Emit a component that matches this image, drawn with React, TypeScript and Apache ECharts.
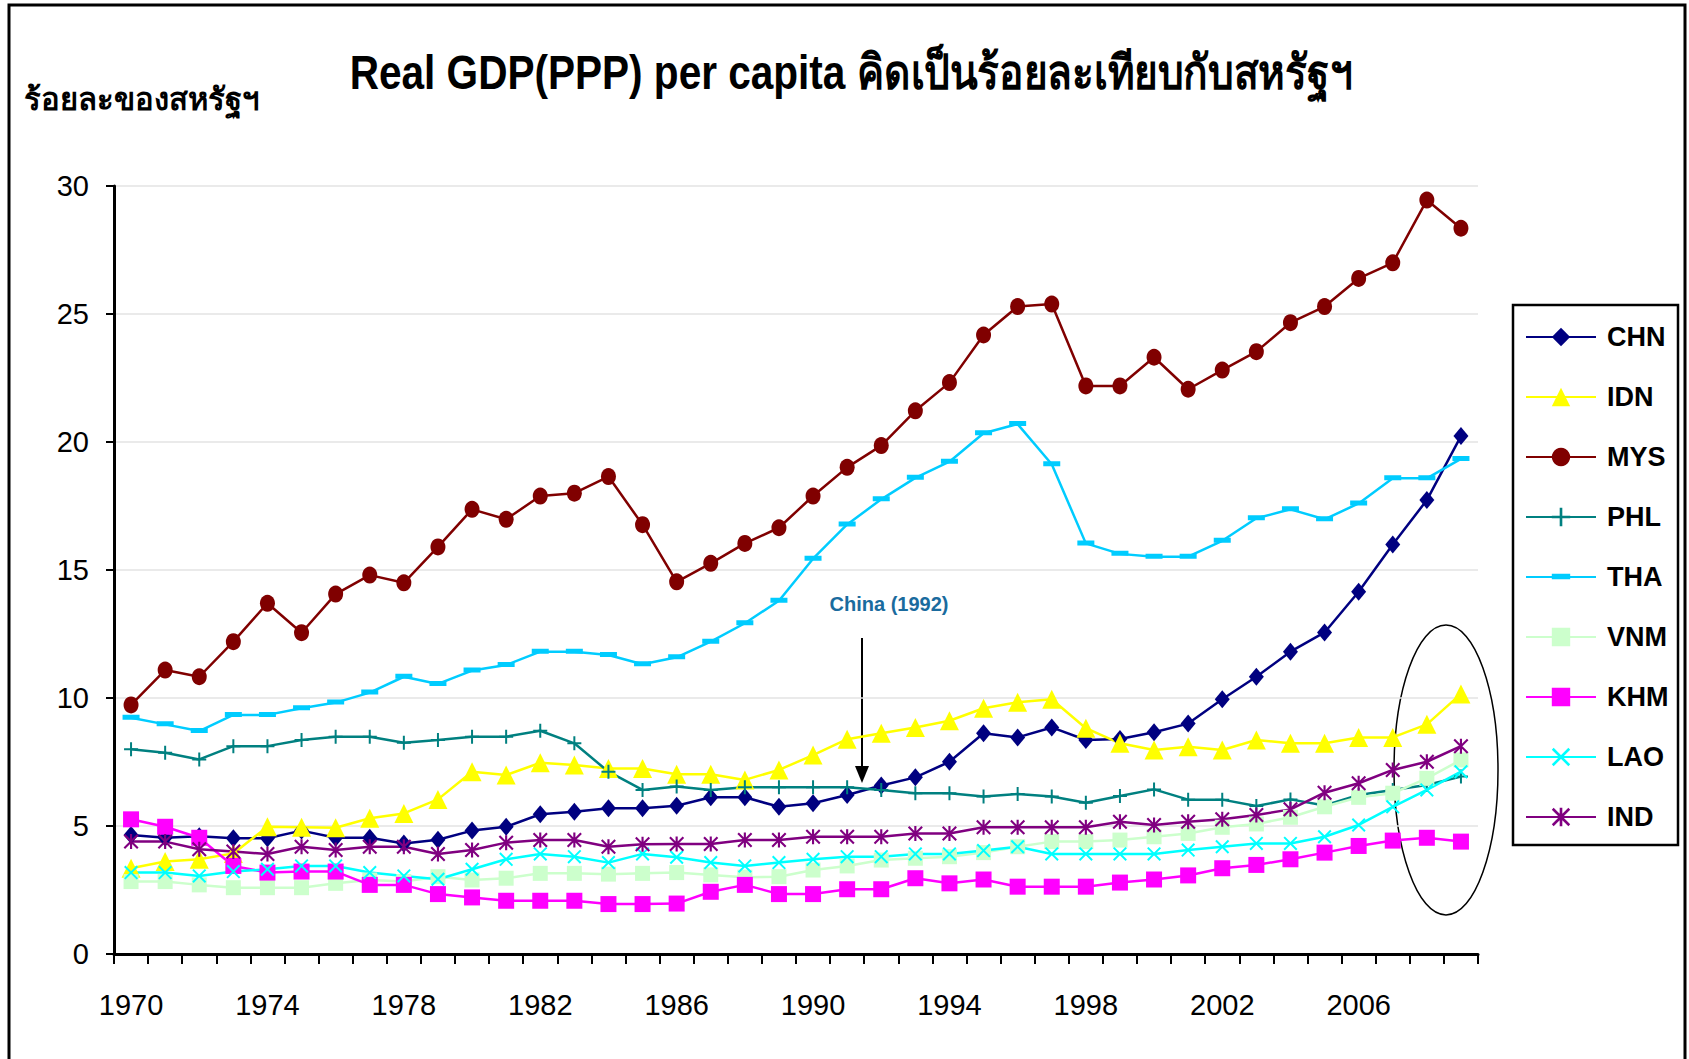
import React, { useEffect, useRef } from "react";
import * as echarts from "echarts";

const FONT = "'Liberation Sans', Arial, sans-serif";

const years = [
  "1970", "1971", "1972", "1973", "1974", "1975", "1976", "1977", "1978", "1979",
  "1980", "1981", "1982", "1983", "1984", "1985", "1986", "1987", "1988", "1989",
  "1990", "1991", "1992", "1993", "1994", "1995", "1996", "1997", "1998", "1999",
  "2000", "2001", "2002", "2003", "2004", "2005", "2006", "2007", "2008", "2009",
];

const CHN = [4.65, 4.54, 4.6, 4.52, 4.52, 4.82, 4.54, 4.54, 4.32, 4.46,
  4.82, 4.97, 5.46, 5.56, 5.69, 5.69, 5.79, 6.12, 6.12, 5.75,
  5.89, 6.21, 6.58, 6.9, 7.51, 8.62, 8.46, 8.85, 8.36, 8.4,
  8.66, 9.0, 9.95, 10.83, 11.81, 12.56, 14.15, 16.0, 17.73, 20.23];
const IDN = [3.35, 3.61, 3.7, 3.93, 4.97, 4.95, 4.93, 5.3, 5.49, 6.04,
  7.12, 6.99, 7.47, 7.38, 7.25, 7.25, 7.02, 7.02, 6.8, 7.19,
  7.77, 8.39, 8.62, 8.85, 9.11, 9.6, 9.83, 9.95, 8.82, 8.23,
  7.97, 8.1, 7.97, 8.36, 8.23, 8.23, 8.46, 8.46, 8.97, 10.16];
const MYS = [9.73, 11.09, 10.83, 12.2, 13.7, 12.55, 14.06, 14.8, 14.5, 15.9,
  17.37, 16.98, 17.89, 18.0, 18.65, 16.77, 14.54, 15.26, 16.04, 16.65,
  17.89, 19.01, 19.86, 21.22, 22.32, 24.18, 25.29, 25.39, 22.19, 22.19,
  23.31, 22.06, 22.81, 23.53, 24.66, 25.29, 26.39, 27.0, 29.45, 28.35];
const PHL = [8.0, 7.86, 7.6, 8.12, 8.12, 8.36, 8.49, 8.49, 8.25, 8.36,
  8.49, 8.49, 8.72, 8.23, 7.12, 6.41, 6.54, 6.41, 6.51, 6.51,
  6.51, 6.51, 6.41, 6.28, 6.28, 6.15, 6.25, 6.15, 5.91, 6.17,
  6.43, 6.03, 6.03, 5.78, 6.04, 5.8, 6.21, 6.41, 6.6, 6.93];
const THA = [9.23, 8.97, 8.71, 9.34, 9.34, 9.6, 9.82, 10.21, 10.83, 10.55,
  11.07, 11.29, 11.81, 11.81, 11.68, 11.32, 11.59, 12.2, 12.92, 13.8,
  15.44, 16.78, 17.76, 18.6, 19.23, 20.34, 20.7, 19.13, 16.04, 15.63,
  15.52, 15.52, 16.14, 17.02, 17.37, 16.98, 17.6, 18.58, 18.58, 19.34];
const VNM = [2.83, 2.83, 2.7, 2.59, 2.59, 2.59, 2.76, 2.89, 2.83, 3.02,
  2.89, 2.96, 3.15, 3.15, 3.12, 3.15, 3.18, 3.09, 3.0, 3.02,
  3.28, 3.44, 3.67, 3.74, 3.8, 3.96, 4.19, 4.39, 4.39, 4.45,
  4.58, 4.71, 4.95, 5.08, 5.34, 5.75, 6.12, 6.28, 6.86, 7.58];
const KHM = [5.26, 4.97, 4.54, 3.44, 3.18, 3.22, 3.22, 2.7, 2.7, 2.34,
  2.21, 2.08, 2.08, 2.08, 1.95, 1.95, 1.97, 2.43, 2.7, 2.34,
  2.34, 2.53, 2.53, 2.96, 2.76, 2.91, 2.63, 2.63, 2.63, 2.79,
  2.91, 3.07, 3.35, 3.48, 3.7, 3.96, 4.22, 4.43, 4.54, 4.39];
const LAO = [3.18, 3.18, 3.05, 3.22, 3.31, 3.44, 3.44, 3.18, 3.05, 2.92,
  3.31, 3.7, 3.91, 3.8, 3.57, 3.91, 3.78, 3.57, 3.44, 3.57,
  3.7, 3.8, 3.8, 3.91, 3.91, 4.04, 4.19, 3.91, 3.91, 3.91,
  3.91, 4.06, 4.19, 4.32, 4.32, 4.58, 5.04, 5.75, 6.41, 7.12];
const IND = [4.39, 4.39, 4.09, 4.0, 3.91, 4.19, 4.06, 4.19, 4.19, 3.91,
  4.06, 4.35, 4.45, 4.45, 4.19, 4.29, 4.3, 4.3, 4.45, 4.45,
  4.58, 4.58, 4.58, 4.71, 4.71, 4.95, 4.95, 4.95, 4.95, 5.17,
  5.04, 5.17, 5.26, 5.43, 5.65, 6.3, 6.67, 7.19, 7.51, 8.12];

const yTicks = { min: 0, max: 30, interval: 5 };

const TITLE = "Real GDP(PPP) per capita คิดเป็นร้อยละเทียบกับสหรัฐฯ";
const YNAME = "ร้อยละของสหรัฐฯ";
const NOTE = "China (1992)";

const PLUS = "path://M6,0H8V6H14V8H8V14H6V8H0V6H6Z";
const CROSS = "path://M0,1.4L1.4,0L14,12.6L12.6,14Z M12.6,0L14,1.4L1.4,14L0,12.6Z";
const STAR = "path://M0,1.4L1.4,0L14,12.6L12.6,14Z M12.6,0L14,1.4L1.4,14L0,12.6Z M6,0L8,0L8,14L6,14Z";
const DASH = "path://M0,0h0.01v0.01h-0.01z M0,5.5h17v5h-17z M16.99,16.99h0.01v0.01h-0.01z";

const seriesDefs = [
  { name: "CHN", data: CHN, color: "#000080", symbol: "diamond", size: [15, 18] },
  { name: "IDN", data: IDN, color: "#FFFF00", symbol: "triangle", size: [19, 19] },
  { name: "MYS", data: MYS, color: "#800000", symbol: "circle", size: [15, 17] },
  { name: "PHL", data: PHL, color: "#008080", symbol: PLUS, size: [14, 14] },
  { name: "THA", data: THA, color: "#00CCFF", symbol: DASH, size: [17, 17] },
  { name: "VNM", data: VNM, color: "#CCFFCC", symbol: "rect", size: [15, 15] },
  { name: "KHM", data: KHM, color: "#FF00FF", symbol: "rect", size: [16, 16] },
  { name: "LAO", data: LAO, color: "#00FFFF", symbol: CROSS, size: [14, 14] },
  { name: "IND", data: IND, color: "#800080", symbol: STAR, size: [15, 15] },
];

export default function App() {
  const ref = useRef<HTMLDivElement>(null);
  useEffect(() => {
    if (!ref.current) return;
    const chart = echarts.init(ref.current, null, { renderer: "svg" });
    chart.setOption({
      animation: false,
      backgroundColor: "#ffffff",
      textStyle: { fontFamily: FONT },
      grid: { left: 114, right: 211, top: 186, bottom: 105, containLabel: false },
      xAxis: {
        type: "category",
        data: years,
        boundaryGap: true,
        axisLine: { lineStyle: { color: "#000", width: 3 } },
        axisTick: { show: true, interval: 0, length: 10, lineStyle: { color: "#000", width: 2 } },
        axisLabel: { interval: 3, color: "#000", fontSize: 29, fontFamily: FONT, margin: 36 },
        splitLine: { show: false },
      },
      yAxis: {
        type: "value",
        min: yTicks.min,
        max: yTicks.max,
        interval: yTicks.interval,
        axisLine: { show: true, lineStyle: { color: "#000", width: 3 } },
        axisTick: { show: true, length: 8, lineStyle: { color: "#000", width: 2 } },
        axisLabel: { color: "#000", fontSize: 29, fontFamily: FONT, margin: 25 },
        splitLine: { show: true, lineStyle: { color: "#e3e3e3", width: 1.5 } },
      },
      legend: {
        orient: "vertical",
        left: 1525,
        top: 320,
        padding: 0,
        itemWidth: 70,
        itemHeight: 23,
        itemGap: 26,
        textStyle: { fontSize: 27, lineHeight: 34, fontWeight: "bold", color: "#000", fontFamily: FONT, padding: [0, 0, 0, 6] },
        data: seriesDefs.map((s) => s.name),
      },
      series: seriesDefs.map((s) => ({
        name: s.name,
        type: "line",
        data: s.data,
        symbol: s.symbol,
        symbolSize: s.size,
        showAllSymbol: true,
        color: s.color,
        lineStyle: { color: s.color, width: 2.5 },
        itemStyle: { color: s.color },
        emphasis: { disabled: true },
      })),
      graphic: [
        { type: "rect", shape: { x: 9, y: 5, width: 1676, height: 1100 }, style: { fill: "none", stroke: "#000", lineWidth: 3 }, silent: true },
        { type: "rect", shape: { x: 1513, y: 305, width: 165, height: 540 }, style: { fill: "none", stroke: "#000", lineWidth: 2.5 }, silent: true },
        {
          type: "text", x: 851, y: 72, scaleX: 0.845,
          style: { text: TITLE, fill: "#000", fontSize: 48, fontWeight: "bold", fontFamily: FONT, align: "center", verticalAlign: "middle", textAlign: "center", textVerticalAlign: "middle" },
        },
        {
          type: "text", x: 24, y: 99,
          style: { text: YNAME, fill: "#000", fontSize: 31, fontWeight: "bold", fontFamily: FONT, align: "left", verticalAlign: "middle", textAlign: "left", textVerticalAlign: "middle" },
        },
        {
          type: "text", x: 889, y: 604,
          style: { text: NOTE, fill: "#1A6B9E", fontSize: 20, fontWeight: "bold", fontFamily: FONT, align: "center", verticalAlign: "middle", textAlign: "center", textVerticalAlign: "middle" },
        },
        { type: "line", shape: { x1: 862, y1: 638, x2: 862, y2: 770 }, style: { stroke: "#000", lineWidth: 2 } },
        { type: "polygon", shape: { points: [[855, 766], [869, 766], [862, 783]] }, style: { fill: "#000" } },
        { type: "ellipse", shape: { cx: 1446, cy: 770, rx: 52, ry: 145 }, style: { fill: "none", stroke: "#000", lineWidth: 1.5 } },
      ],
    });
    return () => chart.dispose();
  }, []);
  return <div ref={ref} style={{ position: "fixed", left: 0, top: 0, width: 1689, height: 1059 }} />;
}
